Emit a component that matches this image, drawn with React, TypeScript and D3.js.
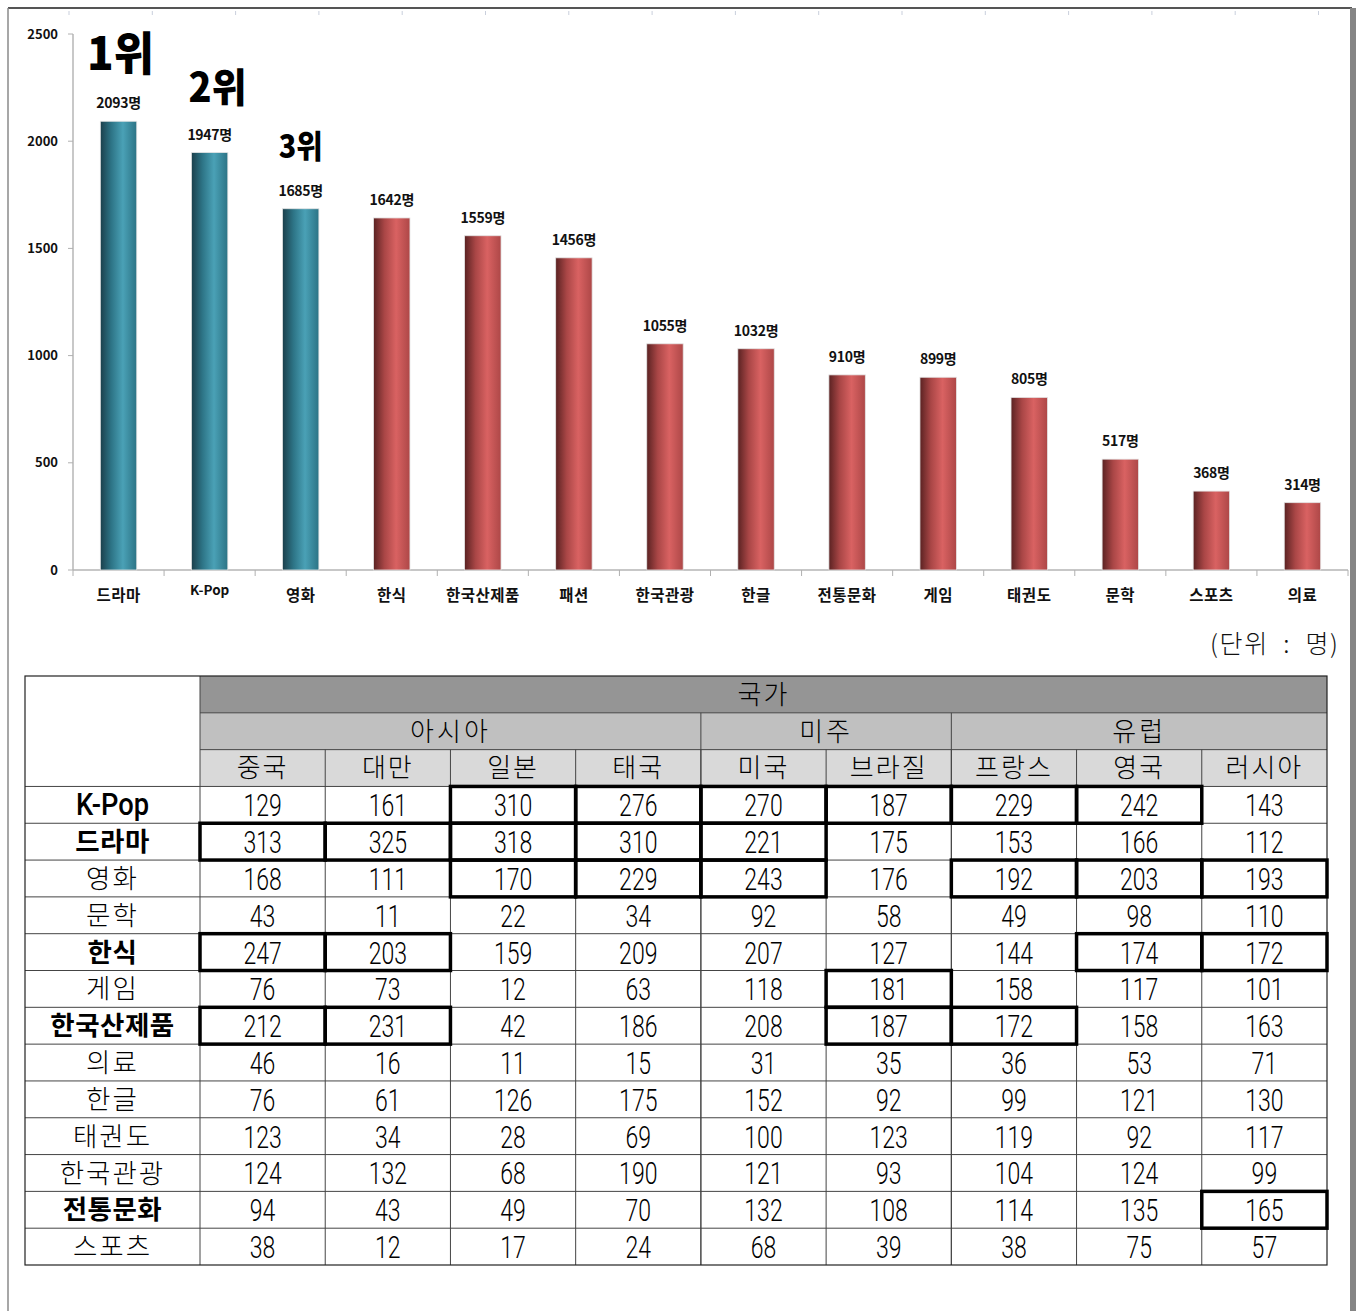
import React from 'react';
import * as d3 from 'd3';

// ---------- chart data ----------
const categories = ['드라마', 'K-Pop', '영화', '한식', '한국산제품', '패션', '한국관광', '한글', '전통문화', '게임', '태권도', '문학', '스포츠', '의료'];
const totals = [2093, 1947, 1685, 1642, 1559, 1456, 1055, 1032, 910, 899, 805, 517, 368, 314];
const rankLabels = ['1위', '2위', '3위'];
const yTicks = [0, 500, 1000, 1500, 2000, 2500];
const unitLabel = '(단위  :  명)';

// ---------- table data ----------
const topHeader = '국가';
const regions = ['아시아', '미주', '유럽'];
const regionSpans = [4, 2, 3];
const countries = ['중국', '대만', '일본', '태국', '미국', '브라질', '프랑스', '영국', '러시아'];
const rowLabels = ['K-Pop', '드라마', '영화', '문학', '한식', '게임', '한국산제품', '의료', '한글', '태권도', '한국관광', '전통문화', '스포츠'];
const boldRows = ['K-Pop', '드라마', '한식', '한국산제품', '전통문화'];
const tableValues = [
  [129, 161, 310, 276, 270, 187, 229, 242, 143],
  [313, 325, 318, 310, 221, 175, 153, 166, 112],
  [168, 111, 170, 229, 243, 176, 192, 203, 193],
  [43, 11, 22, 34, 92, 58, 49, 98, 110],
  [247, 203, 159, 209, 207, 127, 144, 174, 172],
  [76, 73, 12, 63, 118, 181, 158, 117, 101],
  [212, 231, 42, 186, 208, 187, 172, 158, 163],
  [46, 16, 11, 15, 31, 35, 36, 53, 71],
  [76, 61, 126, 175, 152, 92, 99, 121, 130],
  [123, 34, 28, 69, 100, 123, 119, 92, 117],
  [124, 132, 68, 190, 121, 93, 104, 124, 99],
  [94, 43, 49, 70, 132, 108, 114, 135, 165],
  [38, 12, 17, 24, 68, 39, 38, 75, 57],
];
// highlighted (thick-border) cells: [row, col]
const highlights: [number, number][] = [
  [0, 2], [0, 3], [0, 4], [0, 5], [0, 6], [0, 7],
  [1, 0], [1, 1], [1, 2], [1, 3], [1, 4],
  [2, 2], [2, 3], [2, 4], [2, 6], [2, 7], [2, 8],
  [4, 0], [4, 1], [4, 7], [4, 8],
  [5, 5],
  [6, 0], [6, 1], [6, 5], [6, 6],
  [11, 8],
];

const KFONT = '"Noto Sans CJK KR", "Noto Sans", sans-serif';
const NFONT = 'Roboto, "Liberation Sans", Arial, sans-serif';

export default function App() {
  const W = 1358, H = 1311;
  // chart scales
  const xBand = d3.scaleBand<string>().domain(categories).range([73, 1348]).paddingInner(0.6).paddingOuter(0.3);
  const step = xBand.step();
  const y = d3.scaleLinear().domain([0, 2500]).range([570, 34]);

  // table scales
  const tLeft = 25, tRight = 1327, tTop = 676, tBottom = 1265, firstColW = 175;
  const colX = d3.scaleBand<string>().domain(countries).range([tLeft + firstColW, tRight]);
  const rowIdx = d3.range(16).map(String);
  const rowY = d3.scaleBand<string>().domain(rowIdx).range([tTop, tBottom]);
  const rh = rowY.bandwidth();
  const cw = colX.bandwidth();
  const rY = (i: number) => rowY(String(i)) as number;
  const cX = (j: number) => colX(countries[j]) as number;

  const rankSizes = [46, 40, 32];
  const rankWidths = [67, 58, 44];
  const rankDx = [2, 8, 0];

  const numText = (x: number, yy: number, txt: string, weight = 300, size = 32, sx = 0.72) => (
    <g transform={`translate(${x},${yy}) scale(${sx},1)`}>
      <text textAnchor="middle" dy="0.36em" fontFamily={NFONT} fontSize={size} fontWeight={weight} fill="#000">{txt}</text>
    </g>
  );

  let acc = 0;
  const regionCells = regions.map((r, i) => {
    const x0 = cX(acc);
    const x1 = acc + regionSpans[i] >= countries.length ? tRight : cX(acc + regionSpans[i]);
    acc += regionSpans[i];
    return { r, x0, x1 };
  });

  return (
    <svg width={W} height={H} style={{ position: 'absolute', left: 0, top: 0, background: '#fff' }}>
      <defs>
        <linearGradient id="gTeal" x1="0" x2="1" y1="0" y2="0">
          <stop offset="0" stopColor="#1b3f4b" />
          <stop offset="0.3" stopColor="#2d7486" />
          <stop offset="0.62" stopColor="#4aa1b6" />
          <stop offset="1" stopColor="#2c7385" />
        </linearGradient>
        <linearGradient id="gRed" x1="0" x2="1" y1="0" y2="0">
          <stop offset="0" stopColor="#5a2222" />
          <stop offset="0.3" stopColor="#a94646" />
          <stop offset="0.62" stopColor="#d96262" />
          <stop offset="1" stopColor="#ad4747" />
        </linearGradient>
      </defs>

      {/* page frame */}
      <line x1={8} x2={1352} y1={8} y2={8} stroke="#555" strokeWidth={2} />
      <line x1={8} x2={8} y1={8} y2={H} stroke="#8a8a8a" strokeWidth={1.5} />
      <rect x={1350} y={8} width={6} height={H - 8} fill="#858585" />
      {d3.range(69, 1340, 83.3).map((x, i) => (
        <line key={'rt' + i} x1={x} x2={x} y1={11} y2={15} stroke="#c9cfdc" strokeWidth={1} />
      ))}

      {/* axes */}
      <line x1={73} x2={73} y1={34} y2={570} stroke="#c8c8c8" strokeWidth={2} />
      <line x1={73} x2={1348} y1={570} y2={570} stroke="#b5b5b5" strokeWidth={1.5} />
      {yTicks.map(t => (
        <g key={'yt' + t}>
          <line x1={68} x2={73} y1={y(t)} y2={y(t)} stroke="#b0b0b0" />
          <text x={58} y={y(t)} dy="0.35em" textAnchor="end" fontFamily={KFONT} fontWeight="bold" fontSize={13} fill="#111">{t}</text>
        </g>
      ))}
      {d3.range(categories.length + 1).map(i => {
        const x = 73 + i * step;
        return <line key={'xt' + i} x1={x} x2={x} y1={570} y2={576} stroke="#b0b0b0" />;
      })}

      {/* bars */}
      {categories.map((c, i) => {
        const bx = xBand(c) as number;
        const bw = xBand.bandwidth();
        const top = y(totals[i]);
        const cx = bx + bw / 2;
        return (
          <g key={c}>
            <rect x={bx} y={top} width={bw} height={y(0) - top} fill={i < 3 ? 'url(#gTeal)' : 'url(#gRed)'} stroke="#e4e4e4" strokeWidth={0.8} />
            <text x={cx} y={top - 13} textAnchor="middle" fontFamily={KFONT} fontWeight="bold" fontSize={14} fill="#111" letterSpacing={-0.3}>{totals[i]}명</text>
            {c === 'K-Pop'
              ? <text x={cx} y={595} textAnchor="middle" fontFamily={KFONT} fontWeight="bold" fontSize={13.5} fill="#111">{c}</text>
              : <text x={cx} y={601} textAnchor="middle" fontFamily={KFONT} fontWeight="bold" fontSize={15.5} letterSpacing={0.5} fill="#111">{c}</text>}
            {i < rankLabels.length && (
              <text x={cx + rankDx[i]} y={top - 51} textAnchor="middle" fontFamily={KFONT} fontWeight="900" fontSize={rankSizes[i]} fill="#000" textLength={rankWidths[i]} lengthAdjust="spacingAndGlyphs">{rankLabels[i]}</text>
            )}
          </g>
        );
      })}

      {/* unit */}
      <text x={1338} y={653} textAnchor="end" fontFamily={KFONT} fontWeight={300} fontSize={25} fill="#111" style={{ whiteSpace: 'pre' }} textLength={128} lengthAdjust="spacing">{unitLabel}</text>

      {/* table header fills */}
      <rect x={cX(0)} y={rY(0)} width={tRight - cX(0)} height={rh} fill="#959595" />
      <rect x={cX(0)} y={rY(1)} width={tRight - cX(0)} height={rh} fill="#c0c0c0" />
      <rect x={cX(0)} y={rY(2)} width={tRight - cX(0)} height={rh} fill="#d9d9d9" />

      {/* grid lines */}
      <g stroke="#444" strokeWidth={1}>
        <line x1={cX(0)} x2={tRight} y1={rY(1)} y2={rY(1)} />
        <line x1={cX(0)} x2={tRight} y1={rY(2)} y2={rY(2)} />
        {d3.range(3, 16).map(i => <line key={'h' + i} x1={tLeft} x2={tRight} y1={rY(i)} y2={rY(i)} />)}
        <line x1={cX(0)} x2={cX(0)} y1={tTop} y2={tBottom} />
        {regionCells.slice(1).map((rc, i) => <line key={'rv' + i} x1={rc.x0} x2={rc.x0} y1={rY(1)} y2={tBottom} />)}
        {d3.range(1, countries.length).map(j => <line key={'v' + j} x1={cX(j)} x2={cX(j)} y1={rY(2)} y2={tBottom} />)}
      </g>
      <rect x={tLeft} y={tTop} width={tRight - tLeft} height={tBottom - tTop} fill="none" stroke="#222" strokeWidth={1.2} />

      {/* header text */}
      <text x={(cX(0) + tRight) / 2} y={rY(0) + rh / 2} dy="0.36em" textAnchor="middle" fontFamily={KFONT} fontWeight={300} fontSize={26} letterSpacing={2} fill="#000">{topHeader}</text>
      {regionCells.map(rc => (
        <text key={rc.r} x={(rc.x0 + rc.x1) / 2} y={rY(1) + rh / 2} dy="0.36em" textAnchor="middle" fontFamily={KFONT} fontWeight={300} fontSize={26} letterSpacing={3} fill="#000">{rc.r}</text>
      ))}
      {countries.map((c, j) => (
        <text key={c} x={cX(j) + cw / 2} y={rY(2) + rh / 2} dy="0.36em" textAnchor="middle" fontFamily={KFONT} fontWeight={300} fontSize={26} letterSpacing={2} fill="#000">{c}</text>
      ))}

      {/* body */}
      {rowLabels.map((lab, i) => {
        const yy = rY(i + 3) + rh / 2;
        const bold = boldRows.includes(lab);
        return (
          <g key={lab}>
            {lab === 'K-Pop'
              ? numText(tLeft + firstColW / 2, yy - 1, lab, 500, 31, 0.88)
              : <text x={tLeft + firstColW / 2} y={yy} dy="0.36em" textAnchor="middle" fontFamily={KFONT} fontSize={26.5} fontWeight={bold ? 'bold' : 300} letterSpacing={bold ? 0.5 : 2} fill="#000">{lab}</text>}
            {tableValues[i].map((v, j) => (
              <g key={j}>{numText(cX(j) + cw / 2, yy, String(v))}</g>
            ))}
          </g>
        );
      })}

      {/* highlighted cells */}
      {highlights.map(([r, c], k) => (
        <rect key={'hl' + k} x={cX(c)} y={rY(r + 3)} width={cw} height={rh} fill="none" stroke="#000" strokeWidth={3.5} />
      ))}
    </svg>
  );
}
